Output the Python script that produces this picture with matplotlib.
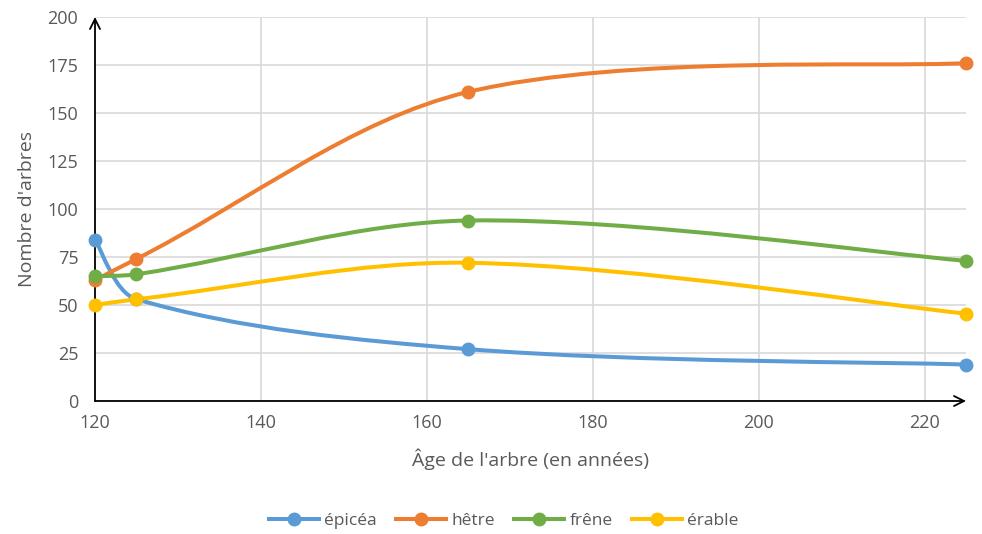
import numpy as np
import matplotlib.pyplot as plt
from matplotlib.path import Path
from matplotlib.patches import PathPatch
from matplotlib.lines import Line2D

plt.rcParams['font.family'] = ['Open Sans', 'DejaVu Sans']

ages = [120, 125, 165, 225]
series_names = ["épicéa", "hêtre", "frêne", "érable"]
epicea = [84, 53, 27, 19]
hetre = [63, 74, 161, 176]
frene = [65, 66, 94, 73]
erable = [50, 53, 72, 45.5]
colors = ["#5B9BD5", "#ED7D31", "#70AD47", "#FFC000"]

x_ticks = [120, 140, 160, 180, 200, 220]
y_ticks = [0, 25, 50, 75, 100, 125, 150, 175, 200]
xlim = (120, 225)
ylim = (0, 200)

W, H = 982, 534
box = (95, 17, 966, 401)  # left, top, right, bottom in pixels


def smooth_path(xs, ys, sx, sy):
    # chord-weighted cardinal spline as cubic Beziers (no loops on uneven spacing)
    pts = np.column_stack([np.asarray(xs, float) * sx, np.asarray(ys, float) * sy])
    n = len(pts)
    d = np.hypot(*np.diff(pts, axis=0).T)
    out_c, in_c = [], []
    for i in range(n):
        if i == 0:
            out_c.append(pts[0] + (pts[1] - pts[0]) / 6.0)
            in_c.append(pts[0])
        elif i == n - 1:
            in_c.append(pts[-1] - (pts[-1] - pts[-2]) / 6.0)
            out_c.append(pts[-1])
        else:
            t = pts[i + 1] - pts[i - 1]
            s = d[i - 1] + d[i]
            in_c.append(pts[i] - t * d[i - 1] / s / 3.0)
            out_c.append(pts[i] + t * d[i] / s / 3.0)
    verts = [pts[0]]
    codes = [Path.MOVETO]
    for i in range(n - 1):
        verts += [out_c[i], in_c[i + 1], pts[i + 1]]
        codes += [Path.CURVE4] * 3
    verts = np.array(verts) / [sx, sy]
    return Path(verts, codes)


fig = plt.figure(figsize=(W / 100, H / 100), dpi=100)
ax = fig.add_axes([box[0] / W, 1 - box[3] / H, (box[2] - box[0]) / W, (box[3] - box[1]) / H])

ax.set_xlim(*xlim)
ax.set_ylim(*ylim)
ax.set_xticks(x_ticks)
ax.set_yticks(y_ticks)
ax.grid(True, color="#D9D9D9", linewidth=1.2)
ax.set_axisbelow(True)
for s in ax.spines.values():
    s.set_visible(False)
ax.tick_params(length=0, labelsize=13, labelcolor="#595959")
ax.tick_params(axis="x", pad=9)
ax.tick_params(axis="y", pad=12)

sx = (box[2] - box[0]) / (xlim[1] - xlim[0])
sy = (box[3] - box[1]) / (ylim[1] - ylim[0])
for name, vals, c in zip(series_names, [epicea, hetre, frene, erable], colors):
    patch = PathPatch(smooth_path(ages, vals, sx, sy), facecolor="none", edgecolor=c,
                      linewidth=2.9, capstyle="round", zorder=3, clip_on=False)
    ax.add_patch(patch)
    ax.plot(ages, vals, linestyle="none", marker="o", markersize=9, color=c,
            zorder=4, clip_on=False)

# axes with arrowheads
ax.annotate("", xy=(120, 200), xytext=(120, 0), xycoords="data",
            arrowprops=dict(arrowstyle="->", color="black", lw=1.3,
                            mutation_scale=18, shrinkA=0, shrinkB=0), zorder=2)
ax.annotate("", xy=(225, 0), xytext=(120, 0), xycoords="data",
            arrowprops=dict(arrowstyle="->", color="black", lw=1.3,
                            mutation_scale=18, shrinkA=0, shrinkB=0), zorder=2)

ax.set_xlabel("Âge de l'arbre (en années)", fontsize=14, color="#595959", labelpad=12)
ax.set_ylabel("Nombre d'arbres", fontsize=14, color="#595959", labelpad=8)

handles = [Line2D([0], [0], color=c, linewidth=2.9, marker="o", markersize=9)
           for c in colors]
fig.legend(handles, series_names, loc="center", bbox_to_anchor=(0.513, 0.024),
           ncol=4, frameon=False, fontsize=12.5, handlelength=2.9,
           columnspacing=1.1, handletextpad=0.3, labelcolor="#595959")

fig.savefig("out.png", dpi=100)
